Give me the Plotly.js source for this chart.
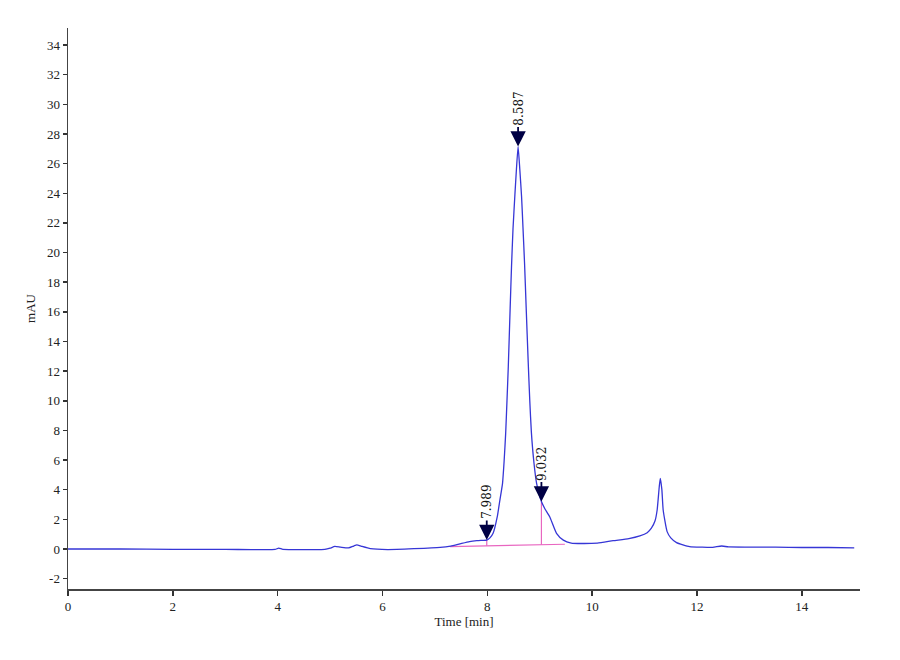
<!DOCTYPE html>
<html>
<head>
<meta charset="utf-8">
<script src="https://cdn.plot.ly/plotly-3.0.1.min.js"></script>
<style>html,body{margin:0;padding:0;background:#fff;}#chart{width:900px;height:660px;}</style>
</head>
<body>
<div id="chart"></div>
<script>
// Chromatogram trace (time in min, absorbance in mAU)
const timeMin = [0, 1.0, 2.0, 3.0, 3.5, 3.95, 4.02, 4.1, 4.5, 4.9, 5.0, 5.09, 5.2, 5.35, 5.45, 5.51, 5.6, 5.77, 6.1, 6.6, 7.1, 7.3, 7.46, 7.66, 7.8, 7.91, 7.989, 8.05, 8.11, 8.19, 8.24, 8.29, 8.32, 8.35, 8.375, 8.40, 8.435, 8.462, 8.49, 8.526, 8.555, 8.587, 8.62, 8.653, 8.68, 8.71, 8.74, 8.78, 8.81, 8.84, 8.89, 8.94, 9.032, 9.1, 9.19, 9.32, 9.45, 9.6, 9.8, 10.1, 10.4, 10.7, 10.91, 11.05, 11.13, 11.2, 11.24, 11.28, 11.30, 11.33, 11.355, 11.43, 11.5, 11.61, 11.86, 12.1, 12.3, 12.47, 12.6, 13.0, 13.5, 14.0, 14.5, 15.0];
const mAU = [0.0, 0.0, -0.02, -0.03, -0.04, -0.03, 0.06, -0.02, -0.04, -0.03, 0.05, 0.17, 0.12, 0.07, 0.2, 0.28, 0.18, 0.02, -0.04, 0.02, 0.11, 0.2, 0.33, 0.5, 0.56, 0.58, 0.6, 0.75, 1.06, 2.18, 3.3, 4.43, 5.9, 7.8, 10.0, 12.3, 16.2, 19.1, 21.6, 23.9, 25.6, 27.15, 25.6, 23.8, 21.7, 19.3, 16.4, 12.6, 10.0, 7.9, 5.8, 4.43, 3.2, 2.7, 2.18, 1.06, 0.6, 0.4, 0.37, 0.4, 0.56, 0.7, 0.88, 1.1, 1.4, 1.9, 2.63, 4.2, 4.77, 4.0, 2.63, 1.17, 0.75, 0.43, 0.16, 0.12, 0.11, 0.2, 0.14, 0.13, 0.12, 0.1, 0.1, 0.08];

// Integration baseline
const baseTimes = [7.29, 9.48];
const baseValues = [0.16, 0.32];

// Peak marks
const peakTimes = [7.989, 8.587, 9.032];
const peakHeights = [0.6, 27.15, 3.2];
const peakLabels = ["7.989", "8.587", "9.032"];
// Drop lines (peaks separated by vertical drops)
const dropTimes = [7.989, 9.032];
const dropTops = [0.6, 3.2];

const xTicks = [0, 2, 4, 6, 8, 10, 12, 14];
const yTicks = [-2, 0, 2, 4, 6, 8, 10, 12, 14, 16, 18, 20, 22, 24, 26, 28, 30, 32, 34];

function baseAt(t) {
  const f = (t - baseTimes[0]) / (baseTimes[1] - baseTimes[0]);
  return baseValues[0] + f * (baseValues[1] - baseValues[0]);
}

const pink = '#e866c0';
const traces = [];
traces.push({x: baseTimes, y: baseValues, mode: 'lines', line: {color: pink, width: 1.2}, hoverinfo: 'skip'});
dropTimes.forEach((t, i) => {
  traces.push({x: [t, t], y: [baseAt(t), dropTops[i]], mode: 'lines', line: {color: pink, width: 1.2}, hoverinfo: 'skip'});
});
traces.push({x: timeMin, y: mAU, mode: 'lines', line: {color: '#3636d6', width: 1.3, shape: 'spline', smoothing: 0.5}});

const annotations = peakTimes.map((t, i) => ({
  x: t, y: peakHeights[i], xref: 'x', yref: 'y',
  text: peakLabels[i], textangle: -90,
  showarrow: true, arrowhead: 2, arrowsize: 1.7, arrowwidth: 1.8, arrowcolor: '#000044',
  ax: 0, ay: -38, standoff: 0,
  font: {family: 'DejaVu Serif', size: 12, color: '#111'}
}));

const axFont = {family: 'Liberation Serif', size: 13, color: '#222'};
const layout = {
  width: 900, height: 660,
  margin: {l: 68, r: 40, t: 28, b: 71},
  paper_bgcolor: '#fff', plot_bgcolor: '#fff',
  showlegend: false,
  xaxis: {
    range: [0, 15.11], tickvals: xTicks, ticktext: xTicks.map(String),
    showgrid: false, zeroline: false, showline: true, linecolor: '#444', linewidth: 1.5,
    ticks: 'outside', ticklen: 5, tickwidth: 1.5, tickcolor: '#333',
    tickfont: axFont,
    title: {text: 'Time [min]', font: {family: 'Liberation Serif', size: 13, color: '#222'}, standoff: 4}
  },
  yaxis: {
    range: [-2.7, 35.15], tickvals: yTicks, ticktext: yTicks.map(String),
    showgrid: false, zeroline: false, showline: true, linecolor: '#444', linewidth: 1.5,
    ticks: 'outside', ticklen: 4, tickwidth: 1.5, tickcolor: '#333',
    tickfont: axFont,
    title: {text: 'mAU', font: {family: 'Liberation Serif', size: 13, color: '#222'}, standoff: 8}
  },
  annotations: annotations
};

Plotly.newPlot('chart', traces, layout, {displayModeBar: false, staticPlot: true});
</script>
</body>
</html>
